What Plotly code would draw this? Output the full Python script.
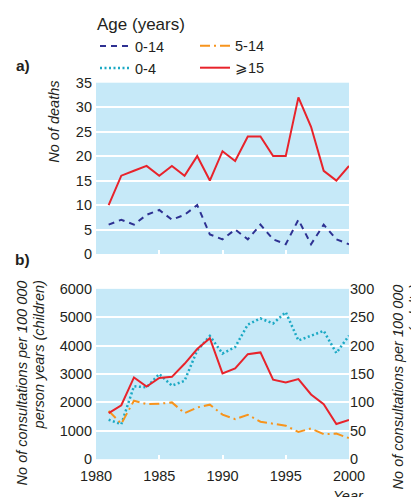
import plotly.graph_objects as go

years = [1981, 1982, 1983, 1984, 1985, 1986, 1987, 1988, 1989, 1990,
         1991, 1992, 1993, 1994, 1995, 1996, 1997, 1998, 1999, 2000]
deaths_0_14 = [6, 7, 6, 8, 9, 7, 8, 10, 4, 3, 5, 3, 6, 3, 2, 7, 2, 6, 3, 2]
deaths_15 = [10, 16, 17, 18, 16, 18, 16, 20, 15, 21, 19, 24, 24, 20, 20, 32, 26, 17, 15, 18]
cons_0_4 = [1390, 1230, 2570, 2530, 3000, 2590, 2760, 3830, 4340, 3720,
            3950, 4740, 4960, 4780, 5180, 4180, 4350, 4520, 3740, 4350]
cons_5_14 = [1700, 1250, 2060, 1940, 1950, 2000, 1620, 1820, 1920, 1570,
             1410, 1560, 1320, 1260, 1180, 960, 1080, 880, 900, 740]
cons_15 = [81, 95, 144, 128, 143, 145, 168, 194, 213, 151,
           160, 185, 188, 140, 135, 141, 114, 97, 62, 69]

x_ticks = [1980, 1985, 1990, 1995, 2000]

# the page body has an 8px margin: the figure is drawn at (8, 8) in the window
OFF = 8
WIN_W, WIN_H = 419, 497
W, H = WIN_W - OFF, WIN_H - OFF
FONT = "Liberation Sans Narrow, Arial Narrow, Liberation Sans, Arial, sans-serif"
FS = 14.5
BG = "#C6E9F8"
RED = "#E8232B"
NAVY = "#2E3192"
CYAN = "#1BA9C4"
ORANGE = "#F7941D"
TXT = "#231F20"

def px(x):
    return (x - OFF) / W

def py(y):
    return (WIN_H - y) / H

fig = go.Figure()

fig.add_trace(go.Scatter(x=years, y=deaths_0_14, name="0-14", mode="lines",
                         line=dict(color=NAVY, width=2, dash="6px,5px"),
                         xaxis="x", yaxis="y", legend="legend", legendrank=1))
fig.add_trace(go.Scatter(x=years, y=cons_0_4, name="0-4", mode="lines",
                         line=dict(color=CYAN, width=2.5, dash="2px,2.5px"),
                         xaxis="x2", yaxis="y2", legend="legend", legendrank=2))
fig.add_trace(go.Scatter(x=years, y=cons_5_14, name="5-14", mode="lines",
                         line=dict(color=ORANGE, width=2, dash="10px,4px,2px,4px"),
                         xaxis="x2", yaxis="y2", legend="legend2", legendrank=1))
fig.add_trace(go.Scatter(x=years, y=deaths_15, name="⩾15", mode="lines",
                         line=dict(color=RED, width=2),
                         xaxis="x", yaxis="y", legend="legend2", legendrank=2))
fig.add_trace(go.Scatter(x=years, y=cons_15, name="⩾15", mode="lines",
                         line=dict(color=RED, width=2), showlegend=False,
                         xaxis="x2", yaxis="y3"))

dom_x = [px(96), px(349)]
xcommon = dict(range=[1980, 2000], tickvals=x_ticks, ticks="inside", ticklen=4,
               tickwidth=1.5, tickcolor="white", showgrid=False, zeroline=False,
               showline=False, domain=dom_x, automargin=False,
               tickfont=dict(size=FS, color=TXT))

legcommon = dict(xanchor="left", yanchor="top", orientation="v",
                 font=dict(size=FS), bgcolor="rgba(0,0,0,0)", tracegroupgap=0)

fig.update_layout(
    width=W, height=H,
    margin=dict(l=0, r=0, t=0, b=0, pad=0),
    paper_bgcolor="white",
    plot_bgcolor=BG,
    font=dict(family=FONT, size=FS, color=TXT),
    xaxis=dict(xcommon, anchor="y", showticklabels=False),
    yaxis=dict(domain=[py(253), py(81)], range=[0, 35], dtick=5, showgrid=True,
               gridcolor="white", gridwidth=2, zeroline=False, ticks="",
               ticklabelstandoff=3, anchor="x", automargin=False),
    xaxis2=dict(xcommon, anchor="y2", ticklabelstandoff=6),
    yaxis2=dict(domain=[py(459), py(288)], range=[0, 6000], dtick=1000, showgrid=True,
                gridcolor="white", gridwidth=2, zeroline=False, ticks="",
                ticklabelstandoff=3, anchor="x2", automargin=False),
    yaxis3=dict(range=[0, 300], dtick=50, overlaying="y2", side="right", anchor="x2",
                showgrid=False, zeroline=False, ticks="", ticklabelstandoff=0,
                automargin=False),
    legend=dict(legcommon, x=px(95), y=py(6),
                title=dict(text="Age (years)", side="top")),
    legend2=dict(legcommon, x=px(195), y=py(28)),
)

ann = [
    dict(text="<b>a)</b>", x=px(23), y=py(64), font=dict(size=FS + 1)),
    dict(text="<b>b)</b>", x=px(23), y=py(259), font=dict(size=FS + 1)),
    dict(text="<i>Year</i>", x=px(348), y=py(486), yanchor="top", font=dict(size=FS)),
]
for a in ann:
    a.setdefault("xanchor", "center")
    a.setdefault("yanchor", "middle")
    fig.add_annotation(xref="paper", yref="paper", showarrow=False, **a)

rot = [
    ("<i>No of deaths</i>", 54, 77),
    ("<i>No of consultations per 100 000</i>", 22, 278),
    ("<i>person years (children)</i>", 39, 278),
    ("<i>No of consultations per 100 000</i>", 398, 282),
    ("<i>person years (adults)</i>", 415, 282),
]
for t, x, y in rot:
    fig.add_annotation(xref="paper", yref="paper", showarrow=False, text=t,
                       textangle=-90, x=px(x), y=py(y), xanchor="center",
                       yanchor="top", font=dict(size=FS))

fig.write_html("out.html")
